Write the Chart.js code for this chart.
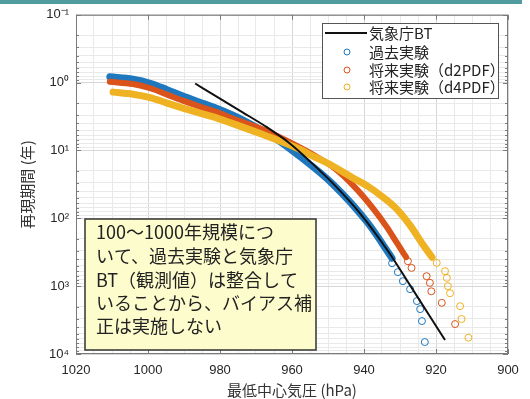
<!DOCTYPE html>
<html>
<head>
<meta charset="utf-8">
<script src="https://cdn.jsdelivr.net/npm/chart.js@4.4.1/dist/chart.umd.min.js"></script>
<style>
  body { margin: 0; background: #fff; }
  #bar { position: absolute; left: 0; top: 0; width: 522px; height: 4px; background: #4f9b9d; z-index: 2; }
  #chart { position: absolute; left: 0; top: 0; }
</style>
</head>
<body>
<div id="bar"></div>
<canvas id="chart" width="530" height="399"></canvas>
<script>
// 気象庁BT (black line)
var btPress = [986.9, 980, 973.6, 967.5, 960.6, 954.4, 948.1, 941.1, 933.3, 926.7, 917.5]
var btRet = [1.03, 1.72, 2.76, 4.36, 7.89, 15.5, 32.7, 84.4, 306, 1070, 6220]

// 過去実験 - dense part + sparse tail
var pastPress = [1010.6, 1004.2, 999.4, 994.7, 990.3, 985.6, 980.8, 973.6, 964.2, 957.8, 948.6, 938.9, 932.2]
var pastRet = [0.82, 0.89, 1.02, 1.27, 1.58, 1.94, 2.41, 3.56, 6.89, 12.3, 31.6, 118, 387]
var pastTailPress = [932.2, 930.6, 929.2, 927.2, 925.3, 924.4, 923.9, 923.1]
var pastTailRet = [459, 622, 844, 1107, 1660, 2180, 3270, 6670]

// 将来実験(d2PDF)
var d2Press = [1010.6, 1004.2, 999.4, 994.7, 990.3, 985.6, 980.8, 977.2, 972.5, 968.1, 963.3, 954.2, 948.1, 942.5, 937.5, 933.6, 930.8, 928.3]
var d2Ret = [0.97, 1.05, 1.21, 1.5, 1.84, 2.25, 2.72, 3.27, 4.01, 4.91, 6.44, 11.5, 18.4, 35, 71.3, 136, 233, 374]
var d2TailPress = [927.8, 926.8, 922.6, 921.7, 921.3, 918.4, 914.7]
var d2TailRet = [429, 538, 713, 893, 1190, 1760, 3620]

// 将来実験(d4PDF)
var d4Press = [1009.7, 1004.2, 999.4, 994.7, 990.3, 985.6, 980.8, 977.2, 968.1, 958.6, 954.2, 949.4, 943.1, 938.9, 935, 931.1, 927.2, 923.9, 921.1]
var d4Ret = [1.38, 1.48, 1.66, 2.0, 2.37, 2.81, 3.33, 3.88, 5.82, 9.19, 12.1, 16.1, 25.4, 33.8, 47.5, 71.3, 127, 233, 374]
var d4TailPress = [919.8, 917.5, 917, 916.7, 916.1, 913.3, 912.9, 911]
var d4TailRet = [454, 601, 755, 1000, 1270, 1970, 3050, 5750]

var xTickVals = [1020, 1000, 980, 960, 940, 920, 900]
var decades = [-1, 0, 1, 2, 3, 4]

var legendNames = ['気象庁BT', '過去実験', '将来実験（d2PDF）', '将来実験（d4PDF）']
var noteLines = ['100〜1000年規模につ', 'いて、過去実験と気象庁', 'BT（観測値）は整合して', 'いることから、バイアス補', '正は実施しない']

var cBlack = '#111111'
var cBlue = '#1f77bd'
var cRed = '#d9531b'
var cYellow = '#efb222'

function pts(xs, ys) {
  return xs.map(function (x, i) { return { x: x, y: ys[i] } })
}

var supMap = { '-': '\u207b', '0': '\u2070', '1': '\u00b9', '2': '\u00b2', '3': '\u00b3', '4': '\u2074' }
function sup(n) {
  return String(n).split('').map(function (c) { return supMap[c] }).join('')
}

function band(data, color, width, order) {
  return { data: data, showLine: true, borderColor: color, borderWidth: width, pointRadius: 0,
    cubicInterpolationMode: 'monotone', borderCapStyle: 'round', borderJoinStyle: 'round', order: order }
}
function tail(data, color, order) {
  return { data: data, showLine: false, pointRadius: 3.5, pointBorderWidth: 1,
    pointBorderColor: color, pointBackgroundColor: 'rgba(0,0,0,0)', order: order }
}

var extras = {
  id: 'extras',
  afterDraw: function (chart) {
    var ctx = chart.ctx
    var a = chart.chartArea
    var xs = chart.scales.x
    var ys = chart.scales.y
    ctx.save()
    // axes box + inward ticks
    ctx.strokeStyle = '#7a7a7a'
    ctx.lineWidth = 1
    ctx.strokeRect(a.left + 0.5, a.top + 0.5, a.right - a.left - 1, a.bottom - a.top - 1)
    ctx.beginPath()
    xTickVals.forEach(function (v) {
      var px = Math.round(xs.getPixelForValue(v)) + 0.5
      ctx.moveTo(px, a.top); ctx.lineTo(px, a.top + 5)
      ctx.moveTo(px, a.bottom); ctx.lineTo(px, a.bottom - 5)
    })
    ys.ticks.forEach(function (t) {
      var py = Math.round(ys.getPixelForValue(t.value)) + 0.5
      var len = t.label !== '' ? 5 : 3
      ctx.moveTo(a.left, py); ctx.lineTo(a.left + len, py)
      ctx.moveTo(a.right, py); ctx.lineTo(a.right - len, py)
    })
    ctx.stroke()

    // legend
    ctx.fillStyle = '#ffffff'
    ctx.fillRect(322, 23, 176, 75)
    ctx.strokeStyle = '#555'
    ctx.strokeRect(322.5, 23.5, 176, 75)
    var rows = [33, 52, 70, 87]
    ctx.font = '15px "Noto Sans CJK JP"'
    ctx.textBaseline = 'middle'
    ctx.fillStyle = '#222'
    legendNames.forEach(function (name, i) {
      ctx.fillText(name, 369, rows[i])
    })
    ctx.strokeStyle = cBlack
    ctx.lineWidth = 2
    ctx.beginPath(); ctx.moveTo(325, rows[0]); ctx.lineTo(367, rows[0]); ctx.stroke()
    ctx.lineWidth = 1
    ;[cBlue, cRed, cYellow].forEach(function (c, i) {
      ctx.strokeStyle = c
      ctx.beginPath(); ctx.arc(347, rows[i + 1], 3, 0, Math.PI * 2); ctx.stroke()
    })

    // note box
    ctx.fillStyle = '#fdfccd'
    ctx.fillRect(85, 219, 231, 131)
    ctx.strokeStyle = '#333'
    ctx.lineWidth = 1.5
    ctx.strokeRect(85, 219, 231, 131)
    ctx.fillStyle = '#222'
    ctx.font = '18px "Noto Sans CJK JP"'
    var ly = [232, 256, 280, 303, 326]
    noteLines.forEach(function (s, i) {
      ctx.fillText(s, 96, ly[i])
    })
    ctx.restore()
  }
}

var tickFont = { family: 'Liberation Sans', size: 13 }
var titleFont = { family: 'Noto Sans CJK JP', size: 15 }

new Chart(document.getElementById('chart'), {
  type: 'scatter',
  data: {
    datasets: [
      { data: pts(btPress, btRet), showLine: true, borderColor: cBlack, borderWidth: 2, pointRadius: 0, cubicInterpolationMode: 'monotone', order: 0 },
      band(pts(pastPress, pastRet), cBlue, 7, 3),
      tail(pts(pastTailPress, pastTailRet), cBlue, 3),
      band(pts(d2Press, d2Ret), cRed, 6, 2),
      tail(pts(d2TailPress, d2TailRet), cRed, 2),
      band(pts(d4Press, d4Ret), cYellow, 7, 1),
      tail(pts(d4TailPress, d4TailRet), cYellow, 1)
    ]
  },
  options: {
    responsive: false,
    animation: false,
    events: [],
    layout: { padding: { top: 13, right: 22, left: 0, bottom: 0 } },
    plugins: { legend: { display: false }, tooltip: { enabled: false } },
    scales: {
      x: {
        type: 'linear',
        min: 900,
        max: 1020,
        reverse: true,
        afterFit: function (axis) { axis.height = 45 },
        ticks: {
          stepSize: 5,
          autoSkip: false,
          maxRotation: 0,
          padding: 9,
          font: tickFont,
          color: '#262626',
          callback: function (v) { return v % 20 === 0 ? String(v) : '' }
        },
        grid: {
          drawTicks: false,
          color: function (c) { return c.tick && c.tick.label !== '' ? '#d6d6d6' : '#e9e9e9' }
        },
        border: { display: false },
        title: { display: true, text: '最低中心気圧 (hPa)', font: titleFont, color: '#333', padding: { top: 0, bottom: 0 } }
      },
      y: {
        type: 'logarithmic',
        min: 0.1,
        max: 10000,
        reverse: true,
        afterFit: function (axis) { axis.width = 76 },
        afterBuildTicks: function (axis) {
          var t = []
          decades.forEach(function (e) {
            for (var m = 1; m < 10; m++) {
              var v = m * Math.pow(10, e)
              if (v <= 10000) t.push({ value: v })
            }
          })
          axis.ticks = t
        },
        ticks: {
          autoSkip: false,
          padding: 7,
          font: tickFont,
          color: '#262626',
          callback: function (v) {
            var e = Math.log10(v)
            var r = Math.round(e)
            return Math.abs(e - r) < 1e-6 ? '10' + sup(r) : ''
          }
        },
        grid: {
          drawTicks: false,
          color: function (c) { return c.tick && c.tick.label !== '' ? '#d6d6d6' : '#e9e9e9' }
        },
        border: { display: false },
        title: { display: true, text: '再現期間 (年)', font: titleFont, color: '#333', padding: { top: 18, bottom: 0 } }
      }
    }
  },
  plugins: [extras]
});
</script>
</body>
</html>
